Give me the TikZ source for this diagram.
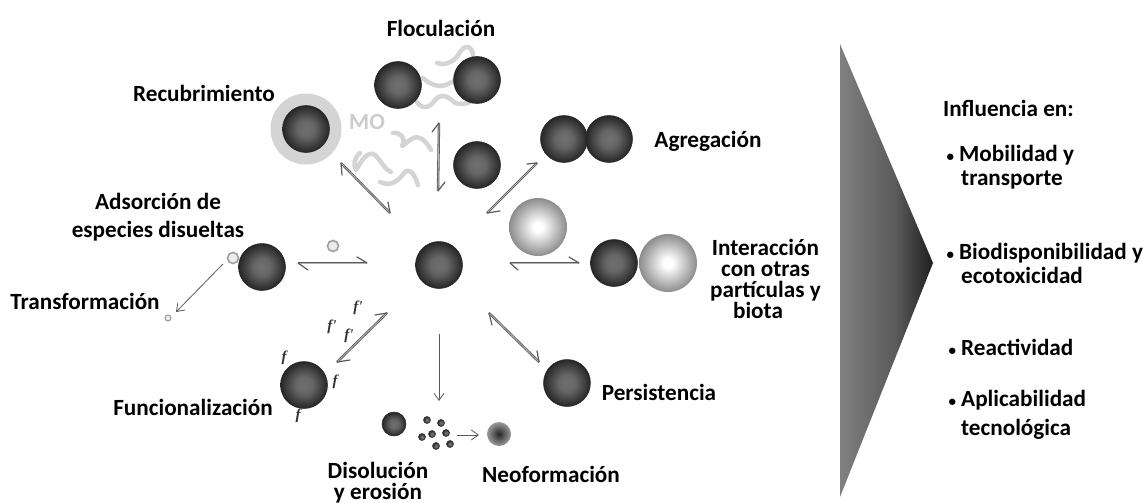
\documentclass[tikz,border=0pt]{standalone}
\usepackage{fontspec}
\setmainfont{Carlito}
\newfontfamily\serifbi{Liberation Serif}
\usetikzlibrary{arrows.meta,shadings}
\definecolor{ballmid}{HTML}{707070}
\definecolor{ballmidb}{HTML}{666666}
\definecolor{balledge}{HTML}{262626}
\definecolor{lightedge}{HTML}{8C8C8C}
\definecolor{neoedge}{HTML}{9A9A9A}
\definecolor{wedgeL}{HTML}{808080}
\definecolor{wedgeM}{HTML}{5A5A5A}
\definecolor{wedgeR}{HTML}{1E1E1E}
\definecolor{squig}{HTML}{D4D4D4}
\definecolor{arrowgray}{HTML}{5A5A5A}
\definecolor{arrowlight}{HTML}{B4B4B4}
\pgfdeclareradialshading{darkball}{\pgfpoint{0bp}{0bp}}{
  color(0bp)=(ballmid); color(9bp)=(ballmidb); color(25bp)=(balledge); color(50bp)=(balledge)}
\pgfdeclareradialshading{lightball}{\pgfpoint{0bp}{0bp}}{
  color(0bp)=(white); color(4bp)=(white); color(25bp)=(lightedge); color(50bp)=(lightedge)}
\pgfdeclareradialshading{neoball}{\pgfpoint{0bp}{0bp}}{
  color(0bp)=(balledge); color(25bp)=(neoedge); color(50bp)=(neoedge)}
\pgfdeclarehorizontalshading{wedgeshade}{100bp}{
  color(0bp)=(wedgeL); color(25bp)=(wedgeL); color(55bp)=(wedgeM); color(75bp)=(wedgeR); color(100bp)=(wedgeR)}
\newcommand{\smallbullet}{\llap{\fontsize{15}{15}\selectfont•\hspace{5pt}}}
\tikzset{
  ball/.style={circle,minimum size=#1,inner sep=0pt,shading=darkball,draw=balledge,line width=.5pt},
  lball/.style={circle,minimum size=#1,inner sep=0pt,shading=lightball},
  ring/.style={circle,minimum size=#1,inner sep=0pt,draw=gray!75,line width=1.6pt,fill=gray!15},
  dot/.style={circle,minimum size=7pt,inner sep=0pt,draw=balledge,line width=.5pt,shading=darkball},
  lab/.style={font=\bfseries\fontsize{23.2}{23}\selectfont,align=center,text=black},
  rlab/.style={font=\bfseries\fontsize{23.2}{24}\selectfont,align=left,text=black,anchor=west,inner sep=0pt},
  fl/.style={font=\serifbi\bfseries\itshape\fontsize{15}{15}\selectfont,text=black!80},
  hline/.style={draw=arrowgray,line width=2.4pt},
  hinner/.style={draw=arrowlight,line width=.8pt},
  barb/.style={draw=arrowgray,line width=1.2pt,line cap=round},
  thin arrow/.style={draw=black!65,line width=.8pt,-{Straight Barb[length=7pt,width=10pt]}},
  squiggle/.style={draw=squig,line width=4.5pt,line cap=round,line join=round},
}
\newcommand{\eqarrow}[4]{%
  \draw[hline] (#1) -- (#2);
  \draw[hinner] (#1) -- (#2);
  \draw[barb] (#1) -- (#3);
  \draw[barb] (#2) -- (#4);
}
\begin{document}
\begin{tikzpicture}[x=1pt,y=-1pt]
\useasboundingbox (0,0) rectangle (1143,503);
\fill[white] (0,0) rectangle (1143,503);
% wedge
\path[shading=wedgeshade] (840,44) -- (933,263) -- (840,497) -- cycle;
% squiggles
\draw[squiggle] (437,63) .. controls (445,66) and (455,62) .. (460,52) .. controls (465,44) and (472,46) .. (473,55);
\draw[squiggle] (423,78) .. controls (430,85) and (440,88) .. (448,84) .. controls (455,80) and (465,76) .. (472,80);
\draw[squiggle] (417,102) .. controls (422,110) and (430,108) .. (435,100) .. controls (442,92) and (450,98) .. (455,103) .. controls (460,105) and (465,104) .. (470,102);
\draw[squiggle] (393,133) .. controls (400,132) and (407,138) .. (402,146) .. controls (408,143) and (412,135) .. (420,138) .. controls (425,140) and (428,145) .. (431,150);
\draw[squiggle] (360,153) .. controls (354,158) and (353,165) .. (356,170) .. controls (362,160) and (368,150) .. (375,155) .. controls (382,162) and (385,170) .. (391,172);
\draw[squiggle] (380,182) .. controls (393,188) and (400,178) .. (405,172) .. controls (410,168) and (415,175) .. (418,185);
% particles
\node[ball=47pt] (center) at (439,265) {};
\node[ball=47pt] (flocA) at (398,85) {};
\node[ball=47pt] (flocB) at (477,80) {};
\node[ball=47pt] (mid) at (477,165) {};
\node[circle,minimum size=71pt,inner sep=0pt,fill=black!17] (coat) at (306,129) {};
\node[ball=47pt] (coatcore) at (306,129) {};
\node[ball=47pt] (aggA) at (564,139) {};
\node[ball=47pt] (aggB) at (609,139) {};
\node[lball=58pt] (white) at (538,227) {};
\node[ball=47pt] (intA) at (614,263) {};
\node[lball=58pt] (intB) at (668,263) {};
\node[ball=47pt] (pers) at (567,383) {};
\node[ball=47pt] (ads) at (262,267) {};
\node[ball=47pt] (func) at (304,385) {};
\node[ring=11pt] (ringA) at (233,258) {};
\node[ring=11pt] (ringB) at (333,246) {};
\node[ring=6pt,line width=1.1pt] (ringC) at (168,318) {};
\node[ball=24pt] (diss) at (394,424) {};
\node[dot] (d1) at (427,420) {};
\node[dot] (d2) at (441,423) {};
\node[dot] (d3) at (446,433) {};
\node[dot] (d4) at (432,434) {};
\node[dot] (d5) at (422,437) {};
\node[dot] (d6) at (436,446) {};
\node[dot] (d7) at (450,444) {};
\node[circle,minimum size=24pt,inner sep=0pt,shading=neoball] (neo) at (499,434) {};
% arrow end points
\coordinate (c1a) at (341,163); \coordinate (c1b) at (390,213);
\coordinate (b1a) at (342,175); \coordinate (b1b) at (388,202);
\coordinate (c2a) at (439,123); \coordinate (c2b) at (438,191);
\coordinate (b2a) at (432,132); \coordinate (b2b) at (445,182);
\coordinate (c3a) at (537,163); \coordinate (c3b) at (527,164);
\coordinate (c3c) at (487,213); \coordinate (b3b) at (500,211);
\coordinate (c4a) at (510,263); \coordinate (c4b) at (579,263);
\coordinate (b4a) at (518,270); \coordinate (b4b) at (569,257);
\coordinate (c5a) at (489,313); \coordinate (c5b) at (539,362);
\coordinate (b5a) at (492,325); \coordinate (b5b) at (537,351);
\coordinate (c6a) at (387,313); \coordinate (c6b) at (337,362);
\coordinate (b6a) at (375,315); \coordinate (b6b) at (350,360);
\coordinate (c7a) at (298,263); \coordinate (c7b) at (367,263);
\coordinate (b7a) at (308,270); \coordinate (b7b) at (357,257);
\coordinate (s1a) at (223,264); \coordinate (s1b) at (176,312);
\coordinate (s2a) at (439,334); \coordinate (s2b) at (439,401);
\coordinate (s3a) at (457,435); \coordinate (s3b) at (479,435);
\eqarrow{c1a}{c1b}{b1a}{b1b}
\eqarrow{c2a}{c2b}{b2a}{b2b}
\eqarrow{c3a}{c3c}{c3b}{b3b}
\eqarrow{c4a}{c4b}{b4a}{b4b}
\eqarrow{c5a}{c5b}{b5a}{b5b}
\eqarrow{c6a}{c6b}{b6a}{b6b}
\eqarrow{c7a}{c7b}{b7a}{b7b}
\draw[thin arrow] (s1a) -- (s1b);
\draw[thin arrow] (s2a) -- (s2b);
\draw[thin arrow] (s3a) -- (s3b);
% f labels
\node[fl] (f1) at (358,308) {f'};
\node[fl] (f2) at (332,327) {f'};
\node[fl] (f3) at (349,336) {f'};
\node[fl] (f4) at (284,358) {f};
\node[fl] (f5) at (335,382) {f};
\node[fl] (f6) at (298,416) {f};
% labels
\node[lab,text=black!20,font=\bfseries\fontsize{23}{23}\selectfont] (mo) at (367,122) {MO};
\node[lab] (l1) at (441,28) {Floculación};
\node[lab] (l2) at (204,93) {Recubrimiento};
\node[lab] (l3) at (708,141) {Agregación};
\node[lab,font=\bfseries\fontsize{23.2}{28}\selectfont] (l4) at (158,217) {Adsorción de\\especies disueltas};
\node[lab] (l5) at (85,301) {Transformación};
\node[lab,font=\bfseries\fontsize{23.2}{21}\selectfont] (l6) at (765.5,279) {Interacción\\con otras\\partículas y\\\hspace*{-15pt}biota};
\node[lab] (l7) at (659,392) {Persistencia};
\node[lab] (l8) at (193,407) {Funcionalización};
\node[lab,font=\bfseries\fontsize{23.2}{21}\selectfont] (l9) at (378,482.5) {Disolución\\y erosión};
\node[lab] (l10) at (551,474) {Neoformación};
\node[rlab] (r0) at (943,108) {Influencia en:};
\node[rlab] (r1) at (959,167) {\smallbullet Mobilidad y\\\hspace*{2pt}transporte};
\node[rlab] (r2) at (959,263) {\smallbullet Biodisponibilidad y\\\hspace*{2pt}ecotoxicidad};
\node[rlab] (r3) at (961,347) {\smallbullet Reactividad};
\node[rlab,font=\bfseries\fontsize{23.2}{29}\selectfont] (r4) at (961,415) {\smallbullet Aplicabilidad\\tecnológica};
\end{tikzpicture}
\end{document}
